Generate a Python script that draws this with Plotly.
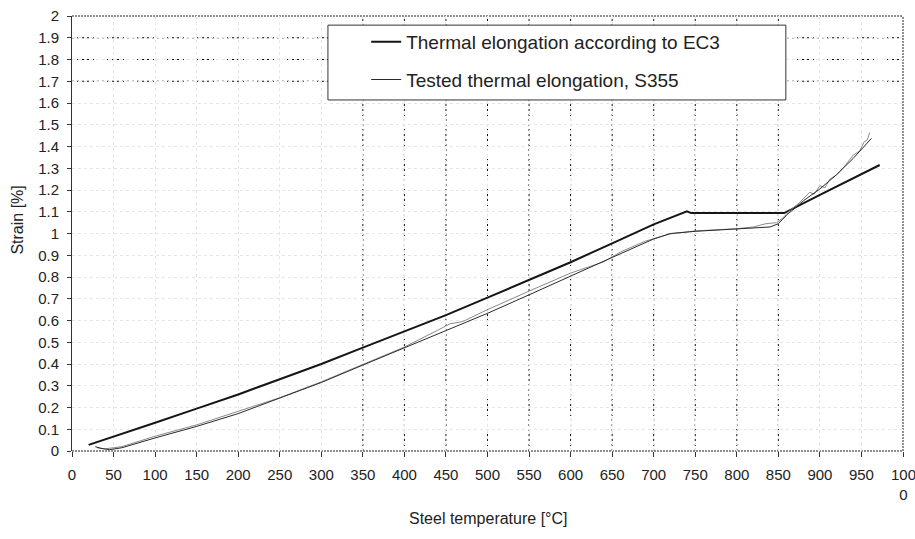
import plotly.graph_objects as go

# ---- data ----
ec3_temp = [20, 50, 100, 150, 200, 250, 300, 350, 400, 450, 500, 550, 600, 650, 700, 740, 745, 800, 857, 900, 950, 972]
ec3_strain = [0.028, 0.065, 0.13, 0.195, 0.26, 0.33, 0.40, 0.475, 0.55, 0.625, 0.705, 0.785, 0.868, 0.955, 1.042, 1.102, 1.094, 1.094, 1.094, 1.178, 1.272, 1.315]

testA_temp = [28, 35, 45, 60, 100, 150, 200, 250, 300, 350, 400, 450, 500, 550, 600, 650, 700, 720, 750, 800, 840, 850, 860, 870, 880, 900, 920, 940, 962]
testA_strain = [0.02, 0.012, 0.006, 0.015, 0.06, 0.113, 0.172, 0.242, 0.315, 0.395, 0.475, 0.553, 0.633, 0.718, 0.805, 0.89, 0.975, 1.0, 1.01, 1.02, 1.03, 1.045, 1.085, 1.117, 1.15, 1.205, 1.27, 1.345, 1.437]

testB_temp = [30, 40, 60, 100, 150, 200, 250, 300, 350, 400, 440, 455, 470, 500, 550, 600, 640, 660, 690, 720, 750, 800, 820, 835, 848, 855, 865, 875, 880, 888, 893, 900, 906, 912, 920, 930, 940, 948, 953, 957, 960]
testB_strain = [0.015, 0.01, 0.02, 0.068, 0.12, 0.182, 0.245, 0.318, 0.398, 0.478, 0.555, 0.585, 0.595, 0.65, 0.735, 0.818, 0.87, 0.915, 0.965, 0.998, 1.012, 1.022, 1.03, 1.045, 1.05, 1.07, 1.11, 1.14, 1.16, 1.19, 1.18, 1.22, 1.21, 1.25, 1.27, 1.31, 1.36, 1.38, 1.42, 1.43, 1.465]

x_ticks = [0, 50, 100, 150, 200, 250, 300, 350, 400, 450, 500, 550, 600, 650, 700, 750, 800, 850, 900, 950, 1000]
x_labels = ["0", "50", "100", "150", "200", "250", "300", "350", "400", "450", "500", "550", "600", "650", "700", "750", "800", "850", "900", "950", ""]
x_last_label = "100<br>0"   # "1000" wraps onto two lines in the original
y_ticks = [0, 0.1, 0.2, 0.3, 0.4, 0.5, 0.6, 0.7, 0.8, 0.9, 1, 1.1, 1.2, 1.3, 1.4, 1.5, 1.6, 1.7, 1.8, 1.9, 2]
y_labels = ["0", "0.1", "0.2", "0.3", "0.4", "0.5", "0.6", "0.7", "0.8", "0.9", "1", "1.1", "1.2", "1.3", "1.4", "1.5", "1.6", "1.7", "1.8", "1.9", "2"]

dark_grid_x = [350, 400, 450, 500, 550, 600, 650, 700, 750, 800, 850]
dark_grid_y = [1.7, 1.8, 1.9]

FONT = "Liberation Sans, Arial, sans-serif"
GRID_DASH = "2px,3px"

fig = go.Figure()
fig.add_trace(go.Scatter(x=ec3_temp, y=ec3_strain, mode="lines",
                         name="Thermal elongation according to EC3",
                         legendgroup="a",
                         line=dict(color="#151515", width=2)))
fig.add_trace(go.Scatter(x=testB_temp, y=testB_strain, mode="lines",
                         name="Tested thermal elongation, S355 (2)",
                         showlegend=False, legendgroup="b",
                         line=dict(color="#8a8a8a", width=1)))
fig.add_trace(go.Scatter(x=testA_temp, y=testA_strain, mode="lines",
                         name="Tested thermal elongation, S355",
                         legendgroup="b",
                         line=dict(color="#2a2a2a", width=1)))

shapes = []
for gx in dark_grid_x:
    shapes.append(dict(type="line", xref="x", yref="paper", x0=gx, x1=gx, y0=0, y1=1,
                       line=dict(color="#111", width=1, dash=GRID_DASH), layer="below"))
for gy in dark_grid_y:
    shapes.append(dict(type="line", xref="paper", yref="y", x0=0, x1=1, y0=gy, y1=gy,
                       line=dict(color="#111", width=1, dash=GRID_DASH), layer="below"))
# frame: top, right, bottom dotted
for (x0, x1, y0, y1) in [(0, 1, 1, 1), (1, 1, 0, 1), (0, 1, 0, 0)]:
    shapes.append(dict(type="line", xref="paper", yref="paper", x0=x0, x1=x1, y0=y0, y1=y1,
                       line=dict(color="#222", width=1, dash="2px,1px"), layer="below"))
# legend frame (white box covering grid)
shapes.append(dict(type="rect", xref="paper", yref="paper", x0=0.308, x1=0.859, y0=0.807, y1=0.979,
                   fillcolor="white", line=dict(color="#333", width=1), layer="above"))

fig.update_layout(
    width=915, height=539,
    margin=dict(l=72, r=12, t=16, b=88, autoexpand=False),
    paper_bgcolor="white", plot_bgcolor="white",
    font=dict(family=FONT, size=15, color="#222"),
    showlegend=True,
    legend=dict(x=0.354, y=0.984, xanchor="left", yanchor="top",
                bgcolor="rgba(0,0,0,0)", borderwidth=0,
                font=dict(family=FONT, size=19, color="#222"),
                tracegroupgap=10, itemwidth=30),
    shapes=shapes,
    annotations=[
        dict(text=x_last_label, xref="x", yref="paper", x=x_ticks[-1], y=-0.031,
             xanchor="center", yanchor="top", showarrow=False, font=dict(size=15)),
        dict(text="Steel temperature [°C]", xref="paper", yref="paper", x=0.5, y=-0.155,
             xanchor="center", yanchor="middle", showarrow=False, font=dict(size=16)),
        dict(text="Strain [%]", xref="paper", yref="paper", x=-0.066, y=0.53,
             xanchor="center", yanchor="middle", showarrow=False, textangle=-90, font=dict(size=16)),
    ],
)
fig.update_xaxes(range=[0, 1000], tickvals=x_ticks, ticktext=x_labels, automargin=False,
                 showgrid=True, gridcolor="#e6e6e6", griddash="dot", gridwidth=1,
                 zeroline=False, showline=False,
                 ticks="outside", ticklen=5, tickcolor="#333", ticklabelstandoff=5)
fig.update_yaxes(range=[0, 2], tickvals=y_ticks, ticktext=y_labels, automargin=False,
                 showgrid=True, gridcolor="#e6e6e6", griddash="dot", gridwidth=1,
                 zeroline=False, showline=True, linecolor="#333", linewidth=1,
                 ticks="outside", ticklen=4, tickcolor="#333", ticklabelstandoff=5)

fig.write_html("out.html")
